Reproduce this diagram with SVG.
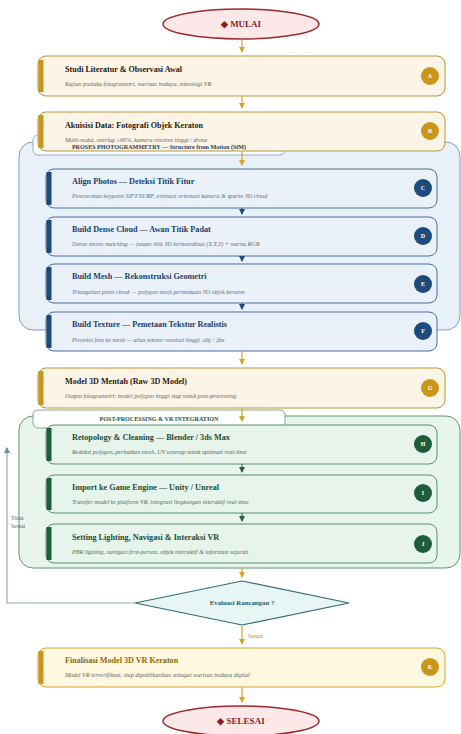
<svg xmlns="http://www.w3.org/2000/svg" width="461" height="734" viewBox="0 0 461 734">
<defs>
<marker id="ag" markerWidth="6" markerHeight="6" refX="5" refY="3" orient="auto" markerUnits="userSpaceOnUse"><path d="M0,0 L6,3 L0,6 z" fill="#d4a52a"/></marker>
<marker id="ab" markerWidth="6" markerHeight="6" refX="5" refY="3" orient="auto" markerUnits="userSpaceOnUse"><path d="M0,0 L6,3 L0,6 z" fill="#1d4b7c"/></marker>
<marker id="an" markerWidth="6" markerHeight="6" refX="5" refY="3" orient="auto" markerUnits="userSpaceOnUse"><path d="M0,0 L6,3 L0,6 z" fill="#2c5c44"/></marker>
<marker id="at" markerWidth="6" markerHeight="6" refX="5" refY="3" orient="auto" markerUnits="userSpaceOnUse"><path d="M0,0 L6,3 L0,6 z" fill="#5f8e8e"/></marker>
</defs>
<style>
text{font-family:"Liberation Serif","Times New Roman",serif}
.term{fill:#fce8e8;stroke:#9b2a2a;stroke-width:1.5}
.termt{font-size:9px;font-weight:bold;fill:#8b1f1f;text-anchor:middle}
.gbox{fill:#fcf4e6;stroke:#b8963a;stroke-width:1}
.gbar{fill:#c9961a}
.gt{font-size:8.1px;font-weight:bold;fill:#2a2010}
.sub{font-size:6.1px;font-style:italic;fill:#666}
.gb{fill:#c9961a}
.bt{font-size:6px;font-weight:bold;fill:#fff;text-anchor:middle}
.bcont{fill:#e8f0f8;stroke:#7f9fbf;stroke-width:1}
.btab{fill:#fff;stroke:#7f9fbf;stroke-width:0.8}
.bbox{fill:#eaf1f9;stroke:#4a6f99;stroke-width:1}
.bbar{fill:#1d4b7c}
.btt{font-size:8.2px;font-weight:bold;fill:#1d3f6a}
.bsub{font-size:6.1px;font-style:italic;fill:#5a6f88}
.bb{fill:#1d4b7c}
.ncont{fill:#e8f5ec;stroke:#5f9274;stroke-width:1}
.ntab{fill:#fff;stroke:#5f9274;stroke-width:0.8}
.nbox{fill:#e6f4ec;stroke:#5a8f6e;stroke-width:1}
.nbar{fill:#1e5c3a}
.ntt{font-size:8.2px;font-weight:bold;fill:#1d4d33}
.nsub{font-size:6.1px;font-style:italic;fill:#4f6e5c}
.nb{fill:#1e5c3a}
.hdr{font-size:6.1px;font-weight:bold;text-anchor:middle}
.kbox{fill:#fff8e0;stroke:#d4a52a;stroke-width:1}
.kt{font-size:8.1px;font-weight:bold;fill:#8a6a10}
.cg{stroke:#d4a52a;stroke-width:1.2;fill:none}
.cb{stroke:#1d4b7c;stroke-width:1;fill:none}
.cn{stroke:#2c5c44;stroke-width:1;fill:none}
.ct{stroke:#8fb0b0;stroke-width:1.2;fill:none}
</style>

<g id="start">
<ellipse class="term" cx="241" cy="24" rx="78" ry="15"/>
<text class="termt" x="241" y="27">◆ MULAI</text>
</g>

<g id="nodeA">
<rect class="gbox" x="38" y="56" width="407" height="40" rx="8"/>
<rect class="gbar" x="38.5" y="60" width="5" height="32"/>
<text class="gt" x="65" y="72">Studi Literatur &amp; Observasi Awal</text>
<text class="sub" x="65" y="86">Kajian pustaka fotogrametri, warisan budaya, teknologi VR</text>
<circle class="gb" cx="430" cy="76" r="9"/>
<text class="bt" x="430" y="78.2">A</text>
</g>

<g id="groupSfM">
<rect class="bcont" x="19" y="142" width="441" height="188" rx="14"/>
<rect class="btab" x="33" y="135" width="252" height="20" rx="5"/>
</g>

<g id="nodeB">
<rect class="gbox" x="38" y="112" width="407" height="39" rx="8"/>
<rect class="gbar" x="38.5" y="115" width="5" height="33"/>
<text class="gt" x="65" y="128">Akuisisi Data: Fotografi Objek Keraton</text>
<text class="sub" x="65" y="142">Multi-sudut, overlap ≥60%, kamera resolusi tinggi / drone</text>
<circle class="gb" cx="430" cy="131" r="9"/>
<text class="bt" x="430" y="133.2">B</text>
</g>

<g id="headerSfM">
<text class="hdr" x="159" y="148.5" fill="#2b3f5c">PROSES PHOTOGRAMMETRY — Structure from Motion (SfM)</text>
</g>

<g id="nodeC">
<rect class="bbox" x="46" y="169" width="391" height="39" rx="8"/>
<rect class="bbar" x="46.5" y="172" width="5" height="33"/>
<text class="btt" x="72" y="184">Align Photos — Deteksi Titik Fitur</text>
<text class="bsub" x="72" y="198">Pencocokan keypoint SIFT/SURF, estimasi orientasi kamera &amp; sparse 3D cloud</text>
<circle class="bb" cx="423" cy="188" r="9"/>
<text class="bt" x="423" y="190.2">C</text>
</g>

<g id="nodeD">
<rect class="bbox" x="46" y="217" width="391" height="39" rx="8"/>
<rect class="bbar" x="46.5" y="220" width="5" height="33"/>
<text class="btt" x="72" y="231.5">Build Dense Cloud — Awan Titik Padat</text>
<text class="bsub" x="72" y="246">Dense stereo matching — jutaan titik 3D berkoordinat (X,Y,Z) + warna RGB</text>
<circle class="bb" cx="423" cy="236" r="9"/>
<text class="bt" x="423" y="238.2">D</text>
</g>

<g id="nodeE">
<rect class="bbox" x="46" y="264" width="391" height="39" rx="8"/>
<rect class="bbar" x="46.5" y="267" width="5" height="33"/>
<text class="btt" x="72" y="279">Build Mesh — Rekonstruksi Geometri</text>
<text class="bsub" x="72" y="293.5">Triangulasi point cloud → polygon mesh permukaan 3D objek keraton</text>
<circle class="bb" cx="423" cy="284" r="9"/>
<text class="bt" x="423" y="286.2">E</text>
</g>

<g id="nodeF">
<rect class="bbox" x="46" y="312" width="391" height="39" rx="8"/>
<rect class="bbar" x="46.5" y="315" width="5" height="33"/>
<text class="btt" x="72" y="327">Build Texture — Pemetaan Tekstur Realistis</text>
<text class="bsub" x="72" y="341.5">Proyeksi foto ke mesh — atlas tekstur resolusi tinggi .obj / .fbx</text>
<circle class="bb" cx="423" cy="331" r="9"/>
<text class="bt" x="423" y="333.2">F</text>
</g>

<g id="nodeG">
<rect class="gbox" x="38" y="368" width="407" height="40" rx="8"/>
<rect class="gbar" x="38.5" y="371" width="5" height="34"/>
<text class="gt" x="65" y="383.5">Model 3D Mentah  (Raw 3D Model)</text>
<text class="sub" x="65" y="398">Output fotogrametri: model polygon tinggi siap untuk post-processing</text>
<circle class="gb" cx="430" cy="388" r="9"/>
<text class="bt" x="430" y="390.2">G</text>
</g>

<g id="groupPost">
<rect class="ncont" x="19" y="416" width="441" height="152" rx="14"/>
<rect class="ntab" x="33" y="410" width="252" height="18" rx="5"/>
<text class="hdr" x="159" y="421" fill="#2b4f3c">POST-PROCESSING &amp; VR INTEGRATION</text>
</g>

<g id="nodeH">
<rect class="nbox" x="46" y="425" width="391" height="39" rx="8"/>
<rect class="nbar" x="46.5" y="428" width="5" height="33"/>
<text class="ntt" x="72" y="439.5">Retopology &amp; Cleaning — Blender / 3ds Max</text>
<text class="nsub" x="72" y="454">Reduksi polygon, perbaikan mesh, UV unwrap untuk optimasi real-time</text>
<circle class="nb" cx="423" cy="444" r="9"/>
<text class="bt" x="423" y="446.2">H</text>
</g>

<g id="nodeI">
<rect class="nbox" x="46" y="475" width="391" height="38" rx="8"/>
<rect class="nbar" x="46.5" y="478" width="5" height="32"/>
<text class="ntt" x="72" y="490">Import ke Game Engine — Unity / Unreal</text>
<text class="nsub" x="72" y="504">Transfer model ke platform VR, integrasi lingkungan interaktif real-time</text>
<circle class="nb" cx="423" cy="493" r="9"/>
<text class="bt" x="423" y="495.2">I</text>
</g>

<g id="nodeJ">
<rect class="nbox" x="46" y="524" width="391" height="39" rx="8"/>
<rect class="nbar" x="46.5" y="527" width="5" height="33"/>
<text class="ntt" x="72" y="540">Setting Lighting, Navigasi &amp; Interaksi VR</text>
<text class="nsub" x="72" y="554">PBR lighting, navigasi first-person, objek interaktif &amp; informasi sejarah</text>
<circle class="nb" cx="423" cy="544" r="9"/>
<text class="bt" x="423" y="546.2">J</text>
</g>

<g id="decision">
<polygon points="242,581 349,603 242,625 135,603" fill="#e8f5f5" stroke="#2e6b78" stroke-width="1.2"/>
<text x="242" y="605" font-size="6.8" font-weight="bold" fill="#2e5a66" text-anchor="middle">Evaluasi Rancangan ?</text>
</g>

<g id="nodeK">
<rect class="kbox" x="38" y="648" width="407" height="39" rx="8"/>
<rect class="gbar" x="38.5" y="651" width="5" height="33"/>
<text class="kt" x="65" y="663">Finalisasi Model 3D VR Keraton</text>
<text class="sub" x="65" y="677">Model VR terverifikasi, siap dipublikasikan sebagai warisan budaya digital</text>
<circle class="gb" cx="430" cy="667" r="9"/>
<text class="bt" x="430" y="669.2">K</text>
</g>

<g id="end">
<ellipse class="term" cx="241" cy="721" rx="78" ry="15"/>
<text class="termt" x="241" y="724">◆ SELESAI</text>
</g>

<g id="connectors">
<line class="cg" x1="242" y1="39" x2="242" y2="52" marker-end="url(#ag)"/>
<line class="cg" x1="242" y1="96" x2="242" y2="108" marker-end="url(#ag)"/>
<line class="cg" x1="242" y1="151" x2="242" y2="165" marker-end="url(#ag)"/>
<line class="cb" x1="242" y1="208" x2="242" y2="214" marker-end="url(#ab)"/>
<line class="cb" x1="242" y1="256" x2="242" y2="261" marker-end="url(#ab)"/>
<line class="cb" x1="242" y1="303" x2="242" y2="309" marker-end="url(#ab)"/>
<line class="cg" x1="242" y1="351" x2="242" y2="364" marker-end="url(#ag)"/>
<line class="cg" x1="242" y1="408" x2="242" y2="421" marker-end="url(#ag)"/>
<line class="cn" x1="242" y1="464" x2="242" y2="472" marker-end="url(#an)"/>
<line class="cn" x1="242" y1="513" x2="242" y2="521" marker-end="url(#an)"/>
<line class="cg" x1="242" y1="568" x2="242" y2="577" marker-end="url(#ag)"/>
<line class="cg" x1="242" y1="625" x2="242" y2="644" marker-end="url(#ag)"/>
<text x="248" y="638" font-size="5.8" fill="#b8902a">Sesuai</text>
<line class="cg" x1="242" y1="687" x2="242" y2="702" marker-end="url(#ag)"/>
<polyline class="ct" points="135,603 7,603 7,448" marker-end="url(#at)"/>
<text x="11" y="520" font-size="5.5" fill="#4f6e6e">Tidak</text>
<text x="11" y="527.5" font-size="5.5" fill="#4f6e6e">Sesuai</text>
</g>
</svg>
